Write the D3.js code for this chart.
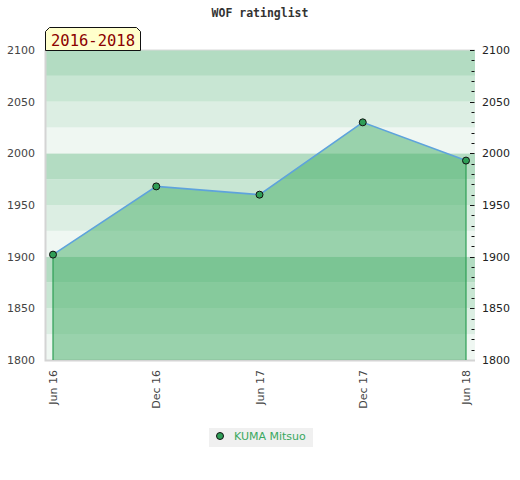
<!DOCTYPE html>
<html>
<head>
<meta charset="utf-8">
<script src="https://cdn.jsdelivr.net/npm/d3@7"></script>
<style>
  body { margin: 0; background: #fff; }
  svg { display: block; }
</style>
</head>
<body>
<script>
var w = 520,
    h = 480,
    plotLeft = 45, plotRight = 475, plotTop = 50, plotBottom = 360;

var dates = ["Jun 16", "Dec 16", "Jun 17", "Dec 17", "Jun 18"];
var ratings = [1902, 1968, 1960, 2030, 1993];
var yTicks = [1800, 1850, 1900, 1950, 2000, 2050, 2100];
var bandShades = ["#b3dcc2", "#c8e6d3", "#dceee3", "#eff7f2"];  // top to bottom in each 100 block

var svg = d3.select("body")
            .append("svg")
            .attr("width", w)
            .attr("height", h);

var x = d3.scalePoint()
    .domain(dates)
    .range([53, 466]);

var y = d3.scaleLinear()
    .domain([1800, 2100])
    .range([plotBottom, plotTop]);

// background bands, 25 points each
var bands = d3.range(1800, 2100, 25);
svg.selectAll("rect.band")
    .data(bands)
    .enter()
    .append("rect")
    .attr("class", "band")
    .attr("x", plotLeft)
    .attr("width", plotRight - plotLeft)
    .attr("y", function(d) { return y(d + 25); })
    .attr("height", function(d) { return y(d) - y(d + 25); })
    .attr("fill", function(d) {
        return bandShades[3 - ((d - 1800) % 100) / 25];
    });

// frame
svg.append("line")
    .attr("x1", plotLeft).attr("x2", plotRight)
    .attr("y1", plotTop).attr("y2", plotTop)
    .attr("stroke", "#d8d8d8");
svg.append("path")
    .attr("d", "M" + (plotLeft + 0.5) + "," + plotTop + "V" + (plotBottom + 0.5) + "H" + plotRight)
    .attr("fill", "none")
    .attr("stroke", "#d4d4d4")
    .attr("stroke-width", 2);

// area
var pts = dates.map(function(d, i) { return [x(d), y(ratings[i])]; });

var area = d3.area()
    .x(function(d) { return d[0]; })
    .y0(plotBottom)
    .y1(function(d) { return d[1]; });

svg.append("path")
    .datum(pts)
    .attr("d", area)
    .attr("fill", "rgb(67,174,101)")
    .attr("fill-opacity", 0.5);

// side edges of the area
[0, pts.length - 1].forEach(function(i) {
    svg.append("line")
        .attr("x1", pts[i][0]).attr("x2", pts[i][0])
        .attr("y1", pts[i][1]).attr("y2", plotBottom)
        .attr("stroke", "#2e9e55")
        .attr("stroke-width", 1.2);
});

svg.append("path")
    .datum(pts)
    .attr("d", d3.line())
    .attr("fill", "none")
    .attr("stroke", "#5ea3dc")
    .attr("stroke-width", 1.6);

svg.selectAll("circle.pt")
    .data(pts)
    .enter()
    .append("circle")
    .attr("class", "pt")
    .attr("cx", function(d) { return d[0]; })
    .attr("cy", function(d) { return d[1]; })
    .attr("r", 3.5)
    .attr("fill", "#2f9e57")
    .attr("stroke", "#111")
    .attr("stroke-width", 1);

// left axis
var leftAxis = svg.append("g")
    .attr("transform", "translate(" + plotLeft + ",0)")
    .call(d3.axisLeft(y).tickValues(yTicks).tickSize(0).tickPadding(10).tickFormat(d3.format("d")));
leftAxis.select(".domain").remove();
leftAxis.selectAll("text")
    .attr("font-family", "DejaVu Sans, sans-serif")
    .attr("font-size", "11px")
    .attr("fill", "#444");

// right axis with minor ticks
var rightAxis = svg.append("g")
    .attr("transform", "translate(" + plotRight + ",0)")
    .call(d3.axisRight(y).tickValues(yTicks).tickSize(0).tickPadding(7).tickFormat(d3.format("d")));
rightAxis.select(".domain").remove();
rightAxis.selectAll("text")
    .attr("font-family", "DejaVu Sans, sans-serif")
    .attr("font-size", "11px")
    .attr("fill", "#222");

svg.selectAll("line.minor")
    .data(d3.range(1810, 2101, 10))
    .enter()
    .append("line")
    .attr("class", "minor")
    .attr("x1", function(d) { return d % 50 === 0 ? plotRight - 5 : plotRight - 3.5; })
    .attr("x2", plotRight - 0.5)
    .attr("y1", function(d) { return Math.round(y(d)) + 0.5; })
    .attr("y2", function(d) { return Math.round(y(d)) + 0.5; })
    .attr("stroke", "#111");

// x labels, rotated
svg.selectAll("text.xlab")
    .data(dates)
    .enter()
    .append("text")
    .attr("class", "xlab")
    .attr("transform", function(d) { return "translate(" + (x(d) + 4) + ",370) rotate(-90)"; })
    .attr("text-anchor", "end")
    .attr("font-family", "DejaVu Sans, sans-serif")
    .attr("font-size", "11px")
    .attr("fill", "#444")
    .text(function(d) { return d; });

// title
svg.append("text")
    .attr("x", 260)
    .attr("y", 17)
    .attr("text-anchor", "middle")
    .attr("font-family", "DejaVu Sans Mono, monospace")
    .attr("font-weight", "bold")
    .attr("font-size", "11.5px")
    .attr("fill", "#333")
    .text("WOF ratinglist");

// period tag
svg.append("path")
    .attr("d", "M45.5,50.5V31.5L49.5,27.5H136.5L140.5,31.5V50.5Z")
    .attr("fill", "#ffffcc")
    .attr("stroke", "#111")
    .attr("stroke-width", 1);
svg.append("text")
    .attr("x", 51)
    .attr("y", 46)
    .attr("font-family", "DejaVu Sans Mono, monospace")
    .attr("font-size", "15.5px")
    .attr("fill", "#8b0000")
    .text("2016-2018");

// legend
var legend = svg.append("g");
legend.append("rect")
    .attr("x", 209).attr("y", 428)
    .attr("width", 104).attr("height", 19)
    .attr("fill", "#f0f0f0");
legend.append("circle")
    .attr("cx", 220).attr("cy", 436)
    .attr("r", 3.5)
    .attr("fill", "#2f9e57")
    .attr("stroke", "#111");
legend.append("text")
    .attr("x", 234).attr("y", 440)
    .attr("font-family", "DejaVu Sans, sans-serif")
    .attr("font-size", "11px")
    .attr("fill", "#3aa860")
    .text("KUMA Mitsuo");
</script>
</body>
</html>
